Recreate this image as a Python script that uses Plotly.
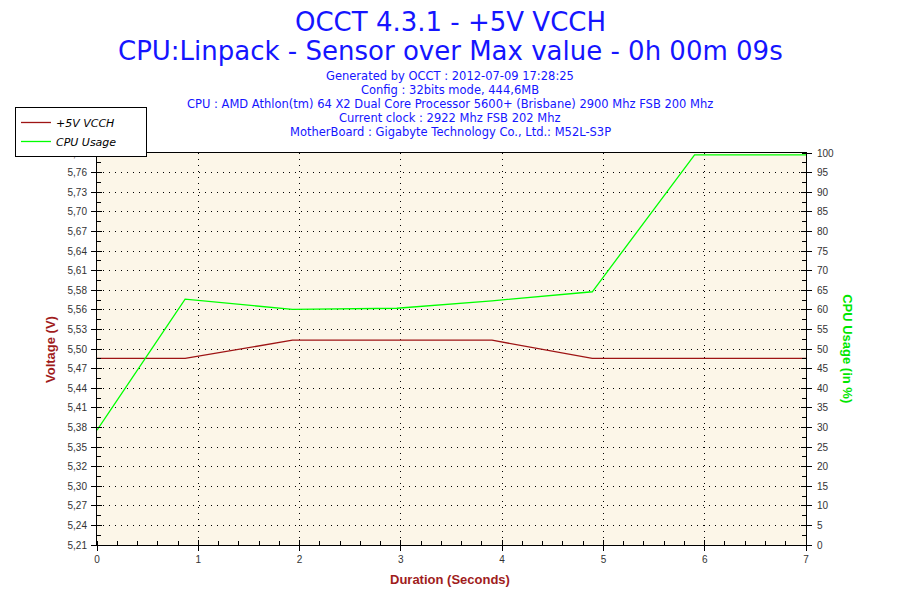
import plotly.graph_objects as go

# OCCT log: +5V VCCH sensor and CPU load over a 7 second Linpack run
time_s = [0, 0.87, 1.93, 2.96, 3.90, 4.89, 5.90, 7.0]
voltage = [5.486, 5.486, 5.513, 5.513, 5.513, 5.486, 5.486, 5.486]
cpu_usage = [29.3, 62.7, 60.1, 60.4, 62.3, 64.6, 99.5, 99.5]

volt_range = [5.21, 5.79]
volt_labels = ["5,21", "5,24", "5,27", "5,30", "5,32", "5,35", "5,38", "5,41", "5,44",
               "5,47", "5,50", "5,53", "5,56", "5,58", "5,61", "5,64", "5,67", "5,70",
               "5,73", "5,76", "5,79"]

title_lines = [
    "Generated by OCCT : 2012-07-09 17:28:25",
    "Config : 32bits mode, 444,6MB",
    "CPU : AMD Athlon(tm) 64 X2 Dual Core Processor 5600+ (Brisbane) 2900 Mhz FSB 200 Mhz",
    "Current clock : 2922 Mhz FSB 202 Mhz",
    "MotherBoard : Gigabyte Technology Co., Ltd.: M52L-S3P",
]

BLUE = "#1515ff"
DARKRED = "#a01c1c"
GREEN = "#00e600"
TICKFONT = dict(family="Liberation Sans, Arial", size=10, color="#333333")

n = len(volt_labels) - 1
step = (volt_range[1] - volt_range[0]) / n
volt_ticks = [volt_range[0] + i * step for i in range(n + 1)]
volt_minor = [volt_range[0] + (i + 0.5) * step for i in range(n)]

fig = go.Figure()

pad = "\u00a0" * 7  # widen the legend box like the original
fig.add_trace(go.Scatter(
    x=time_s, y=voltage, mode="lines", name="+5V VCCH" + pad,
    line=dict(color="#9e1414", width=1.3), yaxis="y"))

fig.add_trace(go.Scatter(
    x=time_s, y=cpu_usage, mode="lines", name="CPU Usage" + pad,
    line=dict(color="#00ff00", width=1.3), yaxis="y2"))

grid_dash = "1px,5px"
common = dict(automargin=False, zeroline=False)

# the page has an 8px body margin, so margins are shifted by 8px
fig.update_layout(
    width=900, height=600,
    margin=dict(l=89, r=102, t=145, b=63, autoexpand=False),
    paper_bgcolor="white",
    plot_bgcolor="#fcf6e8",
    font=dict(family="DejaVu Sans, Verdana", color="#333333"),
    showlegend=True,
    legend=dict(
        x=-0.1157, y=1.0536, xanchor="left", yanchor="middle",
        bgcolor="white", bordercolor="black", borderwidth=1,
        font=dict(family="DejaVu Sans, Verdana", size=11, color="black", style="italic"),
        tracegroupgap=0, itemwidth=30,
    ),
    xaxis=dict(
        range=[0, 7], dtick=1, showline=True, linecolor="black", linewidth=1,
        mirror=True, ticks="outside", ticklen=5, tickcolor="black",
        minor=dict(dtick=0.2, ticks="inside", ticklen=4, tickcolor="black", showgrid=False),
        showgrid=True, gridcolor="black", gridwidth=1, griddash=grid_dash,
        tickfont=TICKFONT, **common,
    ),
    xaxis2=dict(
        range=[0, 7], dtick=1, overlaying="x", showline=False, ticks="inside",
        ticklen=5, tickcolor="black", showticklabels=False, showgrid=False, **common,
    ),
    yaxis=dict(
        range=volt_range, tickvals=volt_ticks, ticktext=volt_labels,
        showline=True, linecolor="black", linewidth=1,
        ticks="outside", ticklen=5, tickcolor="black", ticklabelstandoff=2,
        minor=dict(tickvals=volt_minor, ticks="inside", ticklen=4, tickcolor="black", showgrid=False),
        showgrid=True, gridcolor="black", gridwidth=1, griddash=grid_dash,
        tickfont=TICKFONT, **common,
    ),
    yaxis3=dict(
        range=volt_range, tickvals=volt_ticks, overlaying="y", side="left",
        ticks="inside", ticklen=5, tickcolor="black", showticklabels=False,
        showgrid=False, **common,
    ),
    yaxis2=dict(
        range=[0, 100], dtick=5, overlaying="y", side="right",
        showline=True, linecolor="black", linewidth=1,
        ticks="outside", ticklen=5, tickcolor="black", ticklabelstandoff=3,
        minor=dict(dtick=2.5, ticks="inside", ticklen=4, tickcolor="black", showgrid=False),
        showgrid=False, tickfont=TICKFONT, **common,
    ),
    yaxis4=dict(
        range=[0, 100], dtick=5, overlaying="y", side="right",
        ticks="inside", ticklen=5, tickcolor="black", showticklabels=False,
        showgrid=False, **common,
    ),
)

annotations = [
    dict(text="OCCT 4.3.1 - +5V VCCH", x=0.4979, y=1.334,
         font=dict(family="DejaVu Sans, Verdana", size=26, color=BLUE)),
    dict(text="CPU:Linpack - Sensor over Max value - 0h 00m 09s", x=0.4979, y=1.261,
         font=dict(family="DejaVu Sans, Verdana", size=26, color=BLUE)),
]
for i, line in enumerate(title_lines):
    annotations.append(dict(text=line, x=0.4979, y=1.196 - i * 0.0355,
                            font=dict(family="DejaVu Sans, Verdana", size=11.5, color=BLUE)))

annotations += [
    dict(text="Voltage (V)", x=-0.0663, y=0.5, textangle=-90,
         font=dict(family="Liberation Sans, Arial", size=13, color=DARKRED, weight="bold")),
    dict(text="CPU Usage (in %)", x=1.059, y=0.5, textangle=90,
         font=dict(family="Liberation Sans, Arial", size=13, color=GREEN, weight="bold")),
    dict(text="Duration (Seconds)", x=0.4979, y=-0.089,
         font=dict(family="Liberation Sans, Arial", size=13, color=DARKRED, weight="bold")),
]
for a in annotations:
    a.update(xref="paper", yref="paper", xanchor="center", yanchor="middle", showarrow=False)

fig.update_layout(annotations=annotations)

# dummy traces so the overlay tick axes get drawn
fig.add_trace(go.Scatter(x=[None], y=[None], xaxis="x2", yaxis="y3", showlegend=False, hoverinfo="skip"))
fig.add_trace(go.Scatter(x=[None], y=[None], xaxis="x", yaxis="y4", showlegend=False, hoverinfo="skip"))

fig.write_html("out.html")
